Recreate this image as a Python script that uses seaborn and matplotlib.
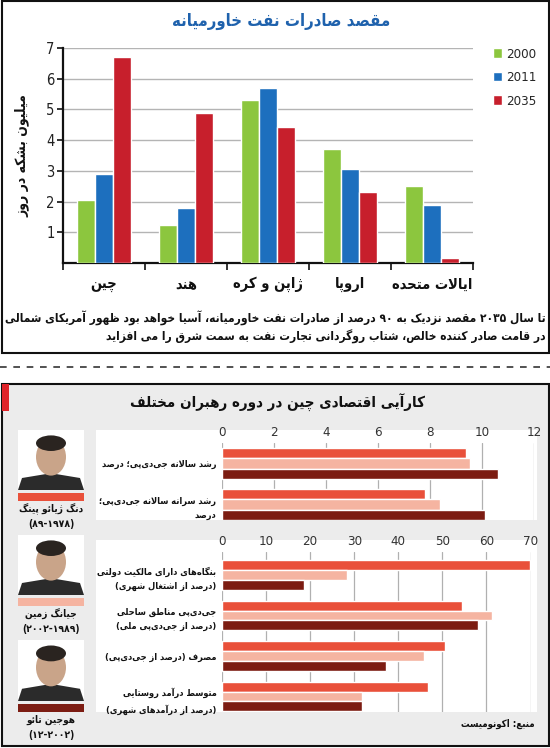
import re
import numpy as np
import pandas as pd
import matplotlib
matplotlib.use('Agg')
import matplotlib.pyplot as plt
import seaborn as sns
from matplotlib.patches import Rectangle, Ellipse, Polygon
from matplotlib.lines import Line2D

# ---- data: Middle East oil exports (million barrels per day)
regions = ['چین', 'هند', 'ژاپن و کره', 'اروپا', 'ایالات متحده']
years = ['2000', '2011', '2035']
exports_2000 = [2.05, 1.25, 5.3, 3.7, 2.5]
exports_2011 = [2.9, 1.8, 5.7, 3.07, 1.88]
exports_2035 = [6.72, 4.9, 4.42, 2.32, 0.15]
year_colors = ['#8cc63e', '#1d6fbe', '#c71f2c']

# ---- data: China economic performance by leader
leaders = ['دنگ ژیائو پینگ', 'جیانگ زمین', 'هوجین تائو']
leader_years = ['(۱۹۷۸-۸۹)', '(۱۹۸۹-۲۰۰۲)', '(۲۰۰۲-۱۲)']
leader_colors = ['#e9503a', '#f5b4a1', '#7c1c12']

gdp_metrics = ['رشد سالانه جی‌دی‌پی؛ درصد', 'رشد سرانه سالانه جی‌دی‌پی؛\nدرصد']
gdp_deng = [9.38, 7.82]
gdp_jiang = [9.54, 8.4]
gdp_hu = [10.6, 10.1]
gdp_ticks = [0, 2, 4, 6, 8, 10, 12]

share_metrics = ['بنگاه‌های دارای مالکیت دولتی\n(درصد از اشتغال شهری)',
                 'جی‌دی‌پی مناطق ساحلی\n(درصد از جی‌دی‌پی ملی)',
                 'مصرف (درصد از جی‌دی‌پی)',
                 'متوسط درآمد روستایی\n(درصد از درآمدهای شهری)']
share_deng = [69.9, 54.4, 50.7, 46.7]
share_jiang = [28.3, 61.2, 45.9, 31.8]
share_hu = [18.6, 58.0, 37.1, 31.8]
share_ticks = [0, 10, 20, 30, 40, 50, 60, 70]

title_top = 'مقصد صادرات نفت خاورمیانه'
ylabel_top = 'میلیون بشکه در روز'
caption = ['تا سال ۲۰۳۵ مقصد نزدیک به ۹۰ درصد از صادرات نفت خاورمیانه، آسیا خواهد بود ظهور آمریکای شمالی',
           'در قامت صادر کننده خالص، شتاب روگردانی تجارت نفت به سمت شرق را می افزاید']
title_bottom = 'کارآیی اقتصادی چین در دوره رهبران مختلف'
source = 'منبع: اکونومیست'


# ---- minimal Persian shaping + RTL ordering (matplotlib has no bidi support)
_forms = {'آ': (0xFE81, 2), 'ا': (0xFE8D, 2), 'ب': (0xFE8F, 4), 'ت': (0xFE95, 4),
          'ث': (0xFE99, 4), 'ج': (0xFE9D, 4), 'ح': (0xFEA1, 4), 'خ': (0xFEA5, 4),
          'د': (0xFEA9, 2), 'ذ': (0xFEAB, 2), 'ر': (0xFEAD, 2), 'ز': (0xFEAF, 2),
          'س': (0xFEB1, 4), 'ش': (0xFEB5, 4), 'ص': (0xFEB9, 4), 'ض': (0xFEBD, 4),
          'ط': (0xFEC1, 4), 'ظ': (0xFEC5, 4), 'ع': (0xFEC9, 4), 'غ': (0xFECD, 4),
          'ف': (0xFED1, 4), 'ق': (0xFED5, 4), 'ل': (0xFEDD, 4), 'م': (0xFEE1, 4),
          'ن': (0xFEE5, 4), 'ه': (0xFEE9, 4), 'و': (0xFEED, 2), 'ئ': (0xFE89, 4),
          'پ': (0xFB56, 4), 'چ': (0xFB7A, 4), 'ژ': (0xFB8A, 2), 'ک': (0xFB8E, 4),
          'گ': (0xFB92, 4), 'ی': (0xFBFC, 4),
          '\uE000': (0xFEFB, 2), '\uE001': (0xFEF5, 2)}


def _shape(s):
    s = s.replace('لا', '\uE000').replace('لآ', '\uE001')
    out = []
    for i, c in enumerate(s):
        if c not in _forms:
            if c != '\u200c':
                out.append(c)
            continue
        base, n = _forms[c]
        prev = s[i - 1] if i > 0 else ''
        nxt = s[i + 1] if i + 1 < len(s) else ''
        p = prev in _forms and _forms[prev][1] == 4
        q = n == 4 and nxt in _forms
        if p and q:
            k = 3
        elif p:
            k = 1
        elif q:
            k = 2
        else:
            k = 0
        out.append(chr(base + k))
    return ''.join(out)


def fa(text):
    lines = []
    for s in text.split('\n'):
        r = _shape(s)[::-1]
        r = re.sub(r'[0-9۰-۹]+', lambda m: m.group(0)[::-1], r)
        lines.append(r.translate(str.maketrans('()', ')(')))
    return '\n'.join(lines)


# ---- figure and pixel helpers
W, H = 550, 748
sns.set_theme(style='white')
plt.rcParams['font.family'] = ['DejaVu Sans']
plt.rcParams['font.stretch'] = 'condensed'
fig = plt.figure(figsize=(W / 100, H / 100), dpi=100)
fig.patch.set_facecolor('white')


def fx(x):
    return x / W


def fy(y):
    return 1 - y / H


def box(x0, y0, x1, y1, **kw):
    r = Rectangle((fx(x0), fy(y1)), (x1 - x0) / W, (y1 - y0) / H,
                  transform=fig.transFigure, **kw)
    fig.add_artist(r)
    return r


def axes_px(x0, y0, x1, y1):
    return fig.add_axes([fx(x0), fy(y1), (x1 - x0) / W, (y1 - y0) / H])


# ---- top panel
box(1.5, 1.5, 548.5, 353, facecolor='white', edgecolor='#111111', lw=1.5, zorder=-2)

df_exp = pd.DataFrame({
    'region': [fa(r) for r in regions] * 3,
    'year': np.repeat(years, len(regions)),
    'value': exports_2000 + exports_2011 + exports_2035,
})

ax1 = axes_px(63, 48, 473, 263)
ax1.set_facecolor('none')
sns.barplot(data=df_exp, x='region', y='value', hue='year', hue_order=years,
            palette=year_colors, width=0.67, saturation=1, ax=ax1, zorder=3)
ax1.set_ylim(0, 7)
ax1.set_xlim(-0.5, 4.5)
ax1.set_yticks(range(1, 8))
ax1.yaxis.grid(True, color='#b4b4b4', lw=1)
ax1.set_axisbelow(True)
for sp in ['top', 'right']:
    ax1.spines[sp].set_visible(False)
for sp in ['left', 'bottom']:
    ax1.spines[sp].set_color('#111111')
    ax1.spines[sp].set_linewidth(1.6)
ax1.tick_params(axis='y', left=True, length=4, width=1.2, color='#111111',
                labelsize=10.5, pad=2, labelcolor='#222222')
ax1.set_xticks(np.arange(-0.5, 5, 1), minor=True)
ax1.tick_params(axis='x', which='minor', bottom=True, length=5, width=1.2, color='#111111')
ax1.tick_params(axis='x', which='major', bottom=False, labelsize=10.5, pad=4, labelcolor='#111111')
for t in ax1.get_xticklabels():
    t.set_fontweight('bold')
ax1.set_xlabel('')
ax1.set_ylabel(fa(ylabel_top), fontsize=10, fontweight='bold', color='#111111', labelpad=12)
ax1.legend(loc='upper left', bbox_to_anchor=(fx(486), fy(41)), bbox_transform=fig.transFigure,
           frameon=False, prop={'size': 9.5}, handlelength=0.7, handleheight=0.7,
           handletextpad=0.3, labelspacing=0.8, borderpad=0)

fig.text(fx(281), fy(21), fa(title_top), ha='center', va='center', fontsize=12,
         fontweight='bold', color='#1f62ad')
fig.text(fx(546), fy(318), fa(caption[0]), ha='right', va='center', fontsize=8.6,
         fontweight='bold', color='#111111')
fig.text(fx(546), fy(337), fa(caption[1]), ha='right', va='center', fontsize=8.6,
         fontweight='bold', color='#111111')

fig.add_artist(Line2D([0, 1], [fy(367), fy(367)], transform=fig.transFigure,
                      color='#333333', lw=1.2, ls=(0, (4, 4))))

# ---- bottom panel background
box(1.5, 384, 548.5, 746, facecolor='#ececec', edgecolor='#111111', lw=1.5, zorder=-2)
box(1.5, 384, 9, 411, facecolor='#e0242a', edgecolor='none', zorder=-1)
fig.text(fx(278), fy(403), fa(title_bottom), ha='center', va='center', fontsize=10.8,
         fontweight='bold', color='#111111')
box(96, 430, 537, 520, facecolor='white', edgecolor='none', zorder=-1)
box(96, 540, 537, 712, facecolor='white', edgecolor='none', zorder=-1)


def hbar_chart(ax, metrics, deng, jiang, hu, ticks):
    df = pd.DataFrame({
        'metric': [fa(m) for m in metrics] * 3,
        'leader': np.repeat(leaders, len(metrics)),
        'value': deng + jiang + hu,
    })
    ax.set_facecolor('none')
    sns.barplot(data=df, y='metric', x='value', hue='leader', hue_order=leaders,
                palette=leader_colors, orient='h', width=0.74, saturation=1,
                legend=False, ax=ax, zorder=3)
    ax.set_xlim(ticks[0], ticks[-1])
    ax.set_xticks(ticks)
    ax.xaxis.tick_top()
    ax.xaxis.grid(True, color='#b0b0b0', lw=0.9)
    ax.set_axisbelow(True)
    for sp in ax.spines.values():
        sp.set_visible(False)
    ax.tick_params(axis='x', top=False, length=0, labelsize=9.5, pad=3, labelcolor='#333333')
    ax.tick_params(axis='y', left=False, length=0, labelsize=6.7, pad=4, labelcolor='#111111')
    for t in ax.get_yticklabels():
        t.set_fontweight('bold')
        t.set_multialignment('right')
        t.set_linespacing(1.8)
    ax.set_xlabel('')
    ax.set_ylabel('')


ax2 = axes_px(222, 443, 534, 520)
hbar_chart(ax2, gdp_metrics, gdp_deng, gdp_jiang, gdp_hu, gdp_ticks)
ax2.set_ylim(1 + 15.5 / 41, -0.5)

ax3 = axes_px(222, 552, 530.5, 712)
hbar_chart(ax3, share_metrics, share_deng, share_jiang, share_hu, share_ticks)
ax3.set_ylim(3 + 15.5 / 40.5, -23 / 40.5)

fig.text(fx(535), fy(724), fa(source), ha='right', va='center', fontsize=6.9,
         fontweight='bold', color='#111111')


# ---- leader portraits (simple placeholders) with colour keys
def portrait(y0, y1, color, name, yrs):
    x0, x1 = 18, 84
    box(x0, y0, x1, y1, facecolor='white', edgecolor='none', zorder=1)
    cx = (x0 + x1) / 2
    h = y1 - y0
    fig.add_artist(Polygon([(fx(x0), fy(y1)), (fx(x1), fy(y1)), (fx(x1 - 4), fy(y0 + h * 0.8)),
                            (fx(cx), fy(y0 + h * 0.72)), (fx(x0 + 4), fy(y0 + h * 0.8))],
                           closed=True, transform=fig.transFigure, facecolor='#2b2b2b',
                           edgecolor='none', zorder=2))
    fig.add_artist(Ellipse((fx(cx), fy(y0 + h * 0.45)), 30 / W, h * 0.62 / H,
                           transform=fig.transFigure, facecolor='#c9a489', edgecolor='none', zorder=3))
    fig.add_artist(Ellipse((fx(cx), fy(y0 + h * 0.22)), 30 / W, h * 0.26 / H,
                           transform=fig.transFigure, facecolor='#2a2420', edgecolor='none', zorder=3))
    box(x0, y1 + 3, x1, y1 + 11, facecolor=color, edgecolor='none', zorder=1)
    fig.text(fx(cx), fy(y1 + 19), fa(name), ha='center', va='center', fontsize=7.2,
             fontweight='bold', color='#111111')
    fig.text(fx(cx), fy(y1 + 34), fa(yrs), ha='center', va='center', fontsize=7.5,
             fontweight='bold', color='#111111')


portrait(430, 490, leader_colors[0], leaders[0], leader_years[0])
portrait(535, 595, leader_colors[1], leaders[1], leader_years[1])
portrait(640, 701, leader_colors[2], leaders[2], leader_years[2])

fig.savefig('out.png', dpi=100)
